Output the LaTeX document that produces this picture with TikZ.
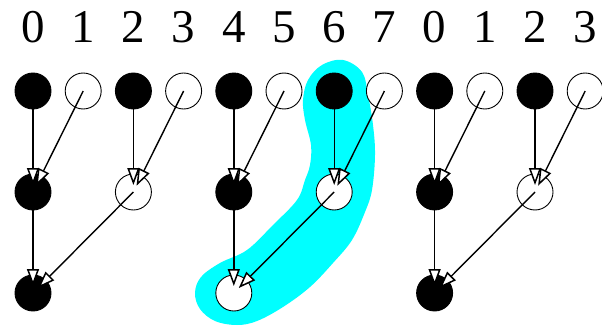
\documentclass[tikz,border=0pt]{standalone}
\usepackage{fontspec}
\setmainfont{Liberation Serif}
\usetikzlibrary{arrows.meta}
\definecolor{aqua}{RGB}{0,255,255}
\begin{document}
\begin{tikzpicture}[x=1pt,y=-1pt,
  vtx/.style={circle,minimum size=36pt,inner sep=0pt,line width=0.9pt,draw=black},
  full/.style={vtx,fill=black},
  hollow/.style={vtx,fill=white},
  idx/.style={anchor=base,inner sep=0pt,font=\fontsize{47}{50}\selectfont},
  link/.style={line width=1.4pt,shorten >=7pt,
    -{Triangle[length=17pt,width=12pt,fill=white,line width=1.5pt]}}]
\useasboundingbox (0,0) rectangle (602,326);

% highlighted path 6 -> 6 -> 4
\fill[aqua] plot[smooth cycle,tension=0.6] coordinates {
  (343,60) (362,72) (368,95) (373,125) (375,155) (372,190) (365,212)
  (352,240) (333,263) (310,287) (283,307) (257,321) (237,325) (215,321)
  (200,309) (195,293) (201,277) (220,263) (247,250) (273,225) (297,200)
  (305,180) (310,165) (311,145) (305,120) (303,100) (308,80) (322,65)};

% column labels
\foreach \i/\t in {0/0,1/1,2/2,3/3,4/4,5/5,6/6,7/7,8/0,9/1,10/2,11/3}
  \node[idx] (l\i) at ({33+50.2*\i},43) {\t};

% top row
\foreach \i in {0,2,4,6,8,10}
  \node[full] (t\i) at ({33+50.2*\i},91) {};
\foreach \i in {1,3,5,7,9,11}
  \node[hollow] (t\i) at ({33+50.2*\i},91) {};

% middle row
\foreach \i in {0,4,8}
  \node[full] (m\i) at ({33+50.2*\i},192) {};
\foreach \i in {2,6,10}
  \node[hollow] (m\i) at ({33+50.2*\i},192) {};

% bottom row
\node[full] (b0) at (33,293) {};
\node[hollow] (b4) at ({33+50.2*4},293) {};
\node[full] (b8) at ({33+50.2*8},293) {};

% combining edges
\foreach \g in {0,4,8}{
  \pgfmathtruncatemacro{\a}{\g+1}
  \pgfmathtruncatemacro{\b}{\g+2}
  \pgfmathtruncatemacro{\c}{\g+3}
  \draw[link] (t\g.center) -- (m\g.center);
  \draw[link] (t\a.center) -- (m\g.center);
  \draw[link] (t\b.center) -- (m\b.center);
  \draw[link] (t\c.center) -- (m\b.center);
  \draw[link] (m\g.center) -- (b\g.center);
  \draw[link] (m\b.center) -- (b\g.center);
}
\end{tikzpicture}
\end{document}
